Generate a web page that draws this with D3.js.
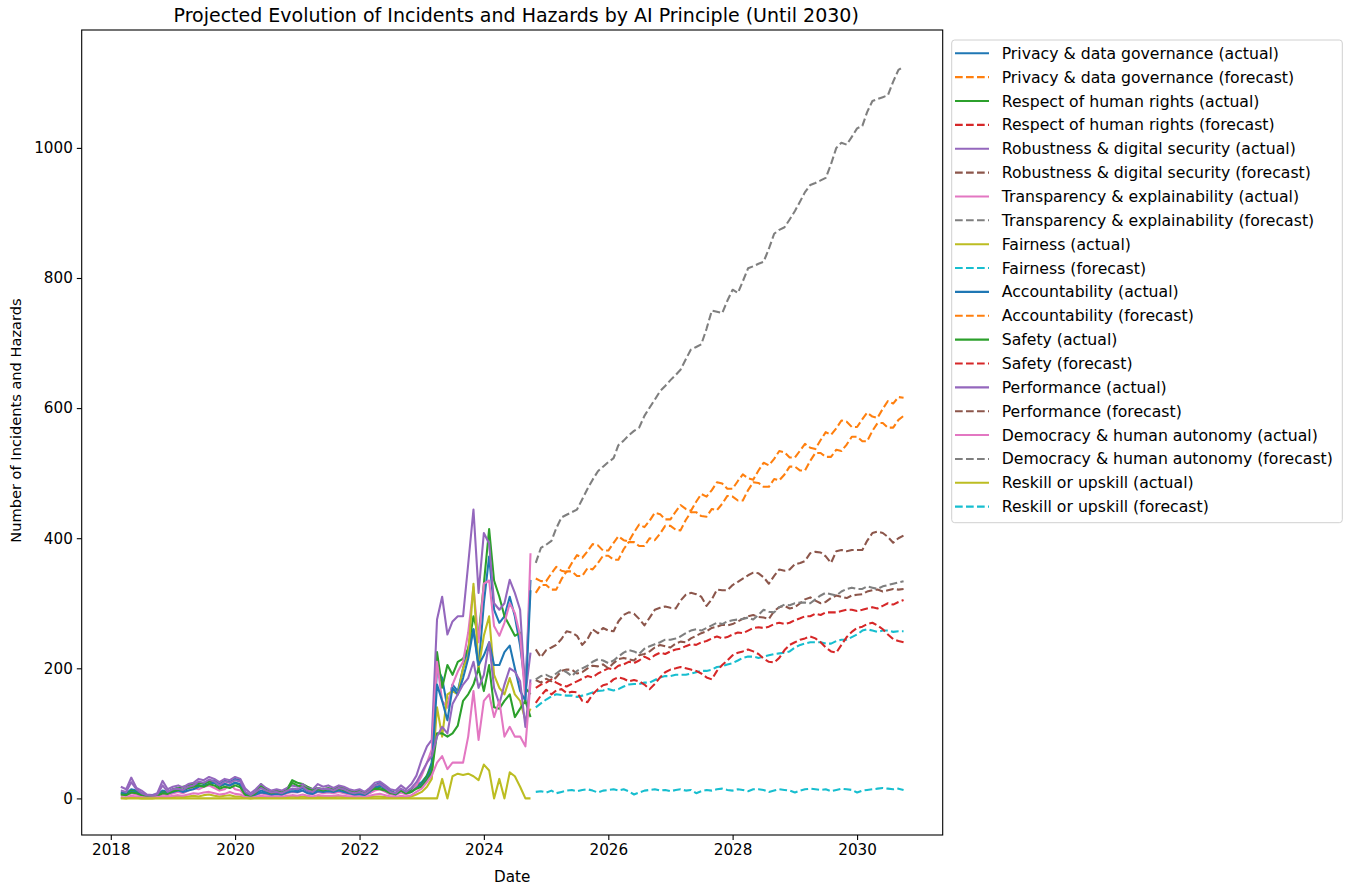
<!DOCTYPE html>
<html>
<head>
<meta charset="utf-8">
<script src="https://cdn.jsdelivr.net/npm/d3@7"></script>
<style>
body { margin: 0; background: #fff; }
svg { font-family: "DejaVu Sans", sans-serif; }
</style>
</head>
<body>
<div id="chartHolder"></div>
<script>
// categories
const principles = [
  "Privacy & data governance", "Respect of human rights", "Robustness & digital security",
  "Transparency & explainability", "Fairness", "Accountability", "Safety", "Performance",
  "Democracy & human autonomy", "Reskill or upskill"
];
const actualStart = "2018-03-01";   // monthly, 80 points
const forecastStart = "2024-11-01"; // monthly, 72 points
const xTickYears = [2018, 2020, 2022, 2024, 2026, 2028, 2030];
const yTicks = [0, 200, 400, 600, 800, 1000];

// actual monthly counts
const privacyActual = [10, 8, 14, 12, 8, 4, 5, 6, 12, 10, 14, 16, 12, 16, 18, 22, 24, 26, 28, 22, 27, 25, 30, 28, 8, 4, 8, 12, 10, 8, 9, 8, 12, 14, 12, 16, 10, 9, 14, 12, 14, 12, 16, 12, 10, 8, 8, 6, 12, 20, 24, 18, 12, 8, 14, 10, 12, 20,
  25, 35, 55, 200, 185, 140, 175, 165, 200, 230, 260, 200, 300, 372, 290, 270, 280, 310, 280, 235, 170, 336];
const respectActual = [8, 6, 12, 10, 6, 3, 4, 5, 10, 9, 14, 16, 18, 20, 22, 24, 22, 26, 24, 18, 22, 20, 24, 20, 6, 4, 10, 22, 14, 10, 12, 10, 14, 28, 24, 22, 18, 14, 16, 14, 16, 14, 18, 16, 12, 10, 12, 8, 14, 18, 16, 14, 10, 8, 14, 10, 12, 18,
  22, 35, 50, 225, 170, 205, 190, 210, 215, 230, 280, 250, 330, 414, 335, 310, 280, 265, 250, 255, 170, 160];
const robustnessActual = [18, 14, 32, 16, 12, 6, 5, 8, 27, 14, 18, 20, 17, 22, 24, 30, 28, 33, 30, 25, 30, 28, 33, 30, 15, 8, 14, 22, 16, 12, 14, 12, 16, 20, 18, 22, 16, 14, 22, 18, 20, 16, 20, 18, 14, 12, 14, 10, 16, 24, 26, 20, 14, 12, 20, 14, 22, 35,
  60, 80, 90, 275, 310, 252, 272, 280, 280, 360, 444, 316, 408, 392, 300, 290, 300, 336, 316, 290, 160, 224];
const transparencyActual = [5, 4, 8, 6, 4, 2, 3, 3, 6, 5, 8, 10, 8, 12, 16, 14, 18, 20, 16, 12, 14, 22, 14, 12, 4, 2, 5, 8, 6, 5, 6, 5, 8, 10, 9, 12, 8, 6, 10, 8, 9, 8, 10, 8, 6, 5, 6, 4, 8, 12, 14, 10, 6, 5, 9, 6, 10, 20,
  35, 55, 75, 210, 150, 140, 175, 195, 210, 255, 325, 240, 330, 335, 265, 250, 270, 300, 285, 250, 150, 377];
const fairnessActual = [1, 0, 2, 1, 0, 0, 0, 1, 2, 1, 2, 3, 2, 3, 4, 3, 5, 6, 4, 3, 4, 5, 3, 3, 1, 0, 1, 2, 2, 1, 2, 1, 2, 3, 2, 3, 2, 1, 2, 2, 2, 2, 3, 2, 1, 1, 1, 1, 2, 3, 3, 2, 1, 1, 2, 1, 3, 6,
  10, 18, 30, 140, 95, 160, 165, 160, 200, 220, 330, 200, 250, 280, 190, 170, 160, 185, 160, 150, 120, 138];
const accountabilityActual = [8, 6, 10, 9, 6, 3, 4, 5, 9, 8, 10, 12, 10, 12, 14, 18, 20, 22, 24, 20, 22, 20, 24, 22, 6, 3, 6, 9, 8, 6, 7, 6, 9, 11, 10, 12, 8, 7, 11, 10, 11, 10, 12, 10, 8, 6, 6, 5, 10, 16, 20, 15, 10, 6, 12, 8, 10, 16,
  20, 30, 45, 175, 150, 120, 170, 160, 185, 215, 260, 205, 220, 240, 205, 205, 225, 235, 200, 165, 150, 320];
const safetyActual = [6, 5, 9, 8, 5, 2, 3, 4, 8, 7, 11, 13, 14, 16, 18, 20, 18, 22, 20, 15, 18, 16, 20, 17, 5, 3, 8, 18, 12, 8, 10, 8, 12, 24, 20, 18, 15, 12, 14, 12, 14, 12, 15, 13, 10, 8, 10, 7, 12, 15, 14, 12, 8, 7, 12, 8, 10, 15,
  18, 28, 40, 100, 100, 95, 100, 112, 150, 160, 175, 200, 165, 205, 140, 138, 150, 160, 125, 138, 150, 125];
const performanceActual = [12, 10, 25, 14, 8, 5, 4, 6, 20, 10, 14, 15, 13, 18, 20, 26, 24, 29, 26, 20, 26, 24, 28, 26, 10, 5, 10, 16, 12, 9, 10, 8, 12, 15, 14, 18, 12, 10, 16, 14, 15, 12, 16, 14, 10, 8, 10, 7, 12, 20, 22, 16, 10, 8, 15, 10, 16, 25,
  40, 55, 65, 95, 110, 100, 145, 160, 175, 185, 210, 170, 190, 240, 170, 145, 175, 200, 195, 180, 110, 183];
const democracyActual = [2, 1, 4, 3, 2, 1, 1, 2, 3, 2, 4, 5, 4, 6, 8, 7, 9, 10, 8, 6, 7, 10, 7, 6, 2, 1, 2, 4, 3, 2, 3, 2, 4, 5, 4, 6, 4, 3, 5, 4, 4, 4, 5, 4, 3, 2, 3, 2, 4, 6, 7, 5, 3, 2, 4, 3, 5, 10,
  15, 25, 35, 55, 65, 45, 55, 55, 55, 95, 165, 90, 150, 160, 125, 150, 95, 110, 95, 95, 80, 178];
const reskillActual = [0, 0, 0, 0, 0, 0, 0, 0, 0, 0, 0, 0, 0, 0, 0, 0, 0, 0, 0, 0, 0, 0, 0, 0, 0, 0, 0, 0, 0, 0, 0, 0, 0, 0, 0, 0, 0, 0, 0, 0, 0, 0, 0, 0, 0, 0, 0, 0, 0, 0, 0, 0, 0, 0, 0, 0, 0, 0,
  0, 0, 0, 0, 30, 0, 34, 38, 36, 38, 34, 28, 52, 43, 0, 30, 0, 40, 34, 18, 0, 0];

// forecast monthly counts
const privacyForecast = [338, 334, 334, 346, 356, 350, 348, 362, 374, 370, 380, 391, 389, 381, 381, 393, 403, 397, 395, 409, 421, 417, 427, 439, 437, 429, 429, 441, 451, 445, 442, 456, 468, 464, 474, 486, 484, 476, 476, 488, 498, 492, 490, 504, 516, 512, 522, 534, 532, 524, 524, 535, 545, 539, 537, 551, 563, 559, 569, 581, 579, 571, 571, 583, 593, 587, 585, 599, 611, 607, 617, 616];
const respectForecast = [170, 175, 178, 183, 178, 174, 172, 176, 180, 184, 188, 186, 192, 196, 200, 198, 204, 206, 210, 208, 212, 218, 214, 220, 224, 222, 226, 229, 230, 234, 237, 236, 240, 242, 246, 249, 246, 248, 252, 255, 254, 258, 262, 263, 262, 264, 268, 270, 268, 270, 274, 277, 280, 280, 284, 282, 286, 286, 286, 288, 290, 290, 288, 290, 292, 294, 292, 296, 300, 298, 302, 305];
const robustnessForecast = [229, 217, 228, 232, 236, 245, 257, 255, 250, 236, 245, 260, 254, 262, 258, 257, 272, 282, 286, 284, 276, 266, 278, 290, 293, 295, 293, 292, 304, 313, 316, 314, 310, 296, 306, 321, 320, 320, 328, 333, 338, 343, 347, 346, 340, 330, 342, 352, 350, 352, 360, 362, 365, 377, 379, 378, 372, 362, 380, 382, 380, 382, 382, 382, 396, 408, 410, 408, 402, 393, 400, 404];
const transparencyForecast = [362, 385, 390, 396, 415, 432, 436, 440, 444, 460, 476, 490, 503, 510, 517, 523, 543, 550, 558, 565, 570, 588, 601, 613, 626, 634, 643, 651, 659, 675, 690, 694, 698, 722, 750, 748, 746, 765, 782, 777, 795, 815, 818, 822, 825, 845, 868, 874, 878, 890, 903, 918, 932, 943, 946, 950, 954, 975, 1000, 1008, 1005, 1017, 1030, 1034, 1055, 1072, 1075, 1078, 1081, 1102, 1120, 1125];
const fairnessForecast = [140, 146, 152, 157, 160, 159, 158, 158, 156, 158, 160, 163, 165, 166, 168, 166, 168, 172, 175, 176, 176, 178, 178, 182, 186, 188, 188, 190, 190, 190, 192, 194, 196, 196, 198, 202, 203, 206, 208, 212, 216, 218, 218, 216, 218, 220, 222, 223, 224, 226, 232, 236, 238, 240, 240, 240, 238, 238, 242, 244, 244, 248, 252, 258, 260, 258, 256, 258, 258, 256, 257, 257];
const accountabilityForecast = [316, 328, 328, 321, 321, 337, 349, 349, 342, 342, 354, 352, 362, 373, 373, 367, 367, 383, 394, 394, 388, 388, 400, 397, 407, 419, 419, 413, 412, 428, 440, 440, 434, 433, 445, 443, 453, 465, 464, 458, 458, 474, 486, 485, 479, 479, 491, 489, 498, 510, 510, 504, 504, 519, 531, 531, 525, 525, 536, 534, 544, 556, 556, 549, 549, 565, 577, 577, 570, 570, 582, 588];
const safetyForecast = [147, 158, 167, 160, 166, 168, 162, 164, 163, 150, 148, 160, 168, 174, 176, 183, 186, 184, 180, 182, 180, 175, 168, 176, 186, 194, 198, 200, 202, 200, 198, 196, 192, 186, 183, 196, 205, 212, 220, 224, 226, 229, 226, 222, 215, 210, 209, 216, 228, 236, 240, 244, 246, 249, 246, 240, 232, 226, 224, 236, 248, 256, 262, 264, 268, 270, 266, 260, 252, 245, 242, 240];
const performanceForecast = [182, 178, 184, 180, 186, 196, 198, 198, 192, 194, 200, 204, 203, 206, 200, 208, 214, 216, 214, 212, 220, 222, 226, 232, 236, 234, 232, 238, 241, 240, 246, 250, 254, 257, 262, 264, 267, 266, 268, 272, 276, 280, 282, 279, 278, 276, 288, 294, 296, 292, 294, 300, 306, 309, 304, 300, 302, 308, 312, 310, 308, 312, 313, 314, 318, 320, 321, 318, 320, 322, 321, 322];
const democracyForecast = [183, 188, 190, 186, 192, 198, 194, 188, 196, 200, 204, 210, 214, 212, 208, 212, 218, 224, 228, 226, 222, 230, 234, 237, 240, 244, 244, 246, 249, 254, 258, 260, 258, 262, 266, 270, 268, 272, 274, 275, 276, 278, 275, 282, 290, 287, 286, 294, 298, 297, 300, 301, 301, 300, 306, 312, 316, 314, 312, 318, 322, 324, 322, 322, 326, 324, 322, 326, 328, 330, 332, 334];
const reskillForecast = [10, 11, 9, 12, 8, 10, 12, 13, 11, 13, 14, 12, 9, 12, 13, 14, 12, 14, 11, 6, 9, 12, 13, 14, 12, 13, 11, 13, 14, 12, 13, 8, 11, 13, 12, 14, 15, 13, 12, 14, 13, 11, 14, 14, 13, 10, 12, 14, 13, 12, 9, 12, 14, 15, 14, 13, 14, 11, 13, 15, 14, 13, 9, 12, 13, 14, 15, 16, 15, 14, 15, 13];

const actualSeries = [privacyActual, respectActual, robustnessActual, transparencyActual, fairnessActual,
  accountabilityActual, safetyActual, performanceActual, democracyActual, reskillActual];
const forecastSeries = [privacyForecast, respectForecast, robustnessForecast, transparencyForecast, fairnessForecast,
  accountabilityForecast, safetyForecast, performanceForecast, democracyForecast, reskillForecast];

const palette = d3.schemeCategory10;

function GetChart(){
    const width = 1351;
    const height = 886;
    const plot = {left: 81.7, right: 942.7, top: 30, bottom: 835};

    const svg = d3.select("#chartHolder")
        .append("svg")
        .attr("width", width)
        .attr("height", height);

    const parse = d3.timeParse("%Y-%m-%d");
    const aStart = parse(actualStart);
    const fStart = parse(forecastStart);

    // build line records
    const lines = [];
    principles.forEach((name, k) => {
        lines.push({
            label: name + " (actual)",
            color: palette[(2 * k) % 10],
            dashed: false,
            points: actualSeries[k].map((v, i) => ({date: d3.timeMonth.offset(aStart, i), value: v}))
        });
        lines.push({
            label: name + " (forecast)",
            color: palette[(2 * k + 1) % 10],
            dashed: true,
            points: forecastSeries[k].map((v, i) => ({date: d3.timeMonth.offset(fStart, i), value: v}))
        });
    });

    const allPts = lines.flatMap(l => l.points);
    const [dMin, dMax] = d3.extent(allPts, p => p.date);
    const dPad = (dMax - dMin) * 0.05;
    const vMin = d3.min(allPts, p => p.value);
    const vMax = d3.max(allPts, p => p.value);
    const vPad = (vMax - vMin) * 0.05;

    const xScale = d3.scaleTime()
        .domain([new Date(+dMin - dPad), new Date(+dMax + dPad)])
        .range([plot.left, plot.right]);
    const yScale = d3.scaleLinear()
        .domain([vMin - vPad, vMax + vPad])
        .range([plot.bottom, plot.top]);

    //create axis X
    const xAxis = d3.axisBottom(xScale)
        .tickValues(xTickYears.map(y => new Date(y, 0, 1)))
        .tickFormat(d3.timeFormat("%Y"))
        .tickSize(4.9)
        .tickPadding(4);
    const gx = svg.append("g")
        .attr("transform", `translate(0, ${plot.bottom})`)
        .call(xAxis);

    //create axis Y
    const yAxis = d3.axisLeft(yScale)
        .tickValues(yTicks)
        .tickFormat(d3.format("d"))
        .tickSize(4.9)
        .tickPadding(4);
    const gy = svg.append("g")
        .attr("transform", `translate(${plot.left}, 0)`)
        .call(yAxis);

    [gx, gy].forEach(g => {
        g.select(".domain").remove();
        g.selectAll(".tick line").attr("stroke", "#000").attr("stroke-width", 1.1);
        g.selectAll(".tick text")
            .attr("fill", "#000")
            .style("font-family", "'DejaVu Sans', sans-serif")
            .style("font-size", "15.2px");
    });

    // lines
    const lineGen = d3.line()
        .x(p => xScale(p.date))
        .y(p => yScale(p.value));

    svg.append("g")
        .selectAll("path")
        .data(lines)
        .enter()
        .append("path")
        .attr("d", l => lineGen(l.points))
        .attr("fill", "none")
        .attr("stroke", l => l.color)
        .attr("stroke-width", 2.08)
        .attr("stroke-linejoin", "round")
        .attr("stroke-dasharray", l => l.dashed ? "7.7,3.3" : null);

    // frame
    svg.append("rect")
        .attr("x", plot.left)
        .attr("y", plot.top)
        .attr("width", plot.right - plot.left)
        .attr("height", plot.bottom - plot.top)
        .attr("fill", "none")
        .attr("stroke", "#000")
        .attr("stroke-width", 1.1);

    //add TEXT
    svg.append("text")
        .attr("x", (plot.left + plot.right) / 2 + 4)
        .attr("y", 22)
        .attr("text-anchor", "middle")
        .style("font-size", "19px")
        .text("Projected Evolution of Incidents and Hazards by AI Principle (Until 2030)");

    svg.append("text")
        .attr("x", (plot.left + plot.right) / 2)
        .attr("y", 882)
        .attr("text-anchor", "middle")
        .style("font-size", "15.2px")
        .text("Date");

    svg.append("text")
        .attr("transform", "rotate(-90)")
        .attr("x", -(plot.top + plot.bottom) / 2 + 12)
        .attr("y", 21)
        .attr("text-anchor", "middle")
        .style("font-size", "14.6px")
        .text("Number of Incidents and Hazards");

    //legend
    const legend = svg.append("g");
    legend.append("rect")
        .attr("x", 951.7)
        .attr("y", 40)
        .attr("width", 390.6)
        .attr("height", 482.7)
        .attr("rx", 3)
        .attr("fill", "#fff")
        .attr("fill-opacity", 0.8)
        .attr("stroke", "#d0d0d0")
        .attr("stroke-width", 1);

    const rows = legend.selectAll(".row")
        .data(lines)
        .enter()
        .append("g")
        .attr("class", "row")
        .attr("transform", (l, i) => `translate(955, ${53.3 + i * 23.86})`);
    rows.append("line")
        .attr("x1", 0).attr("x2", 34)
        .attr("y1", 0).attr("y2", 0)
        .attr("stroke", l => l.color)
        .attr("stroke-width", 2.08)
        .attr("stroke-dasharray", l => l.dashed ? "7.7,3.3" : null);
    rows.append("text")
        .attr("x", 46.7)
        .attr("y", 0)
        .attr("dy", "0.35em")
        .style("font-size", "15.7px")
        .text(l => l.label);
}
GetChart();
</script>
</body>
</html>
